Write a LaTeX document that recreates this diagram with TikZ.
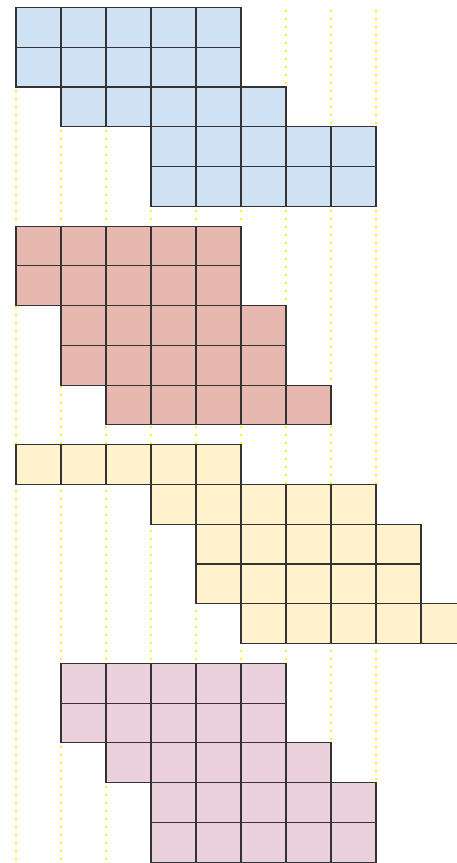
\documentclass[tikz,border=0pt]{standalone}
\definecolor{cblue}{HTML}{CFE2F3}
\definecolor{cred}{HTML}{E6B8AF}
\definecolor{cyel}{HTML}{FFF2CC}
\definecolor{cpink}{HTML}{EAD1DC}
\definecolor{cedge}{HTML}{333333}
\definecolor{cdot}{HTML}{FFFF00}
\tikzset{
  cellbox/.style={draw=cedge, line width=1.1pt},
  dotline/.style={draw=cdot, line width=1.6pt, dash pattern=on 1.6pt off 6.4pt}
}
\begin{document}
\begin{tikzpicture}[x=1pt,y=-1pt]
\useasboundingbox (0,0) rectangle (457,863);
\clip (0,0) rectangle (457,863);
\fill[white] (0,0) rectangle (457,863);
\foreach \i in {0,...,8}
  \draw[dotline] ({16+45*\i},10) -- ({16+45*\i},863);
\foreach \g/\col/\lst in {0/cblue/{0/0,1/0,2/1,3/3,4/3},
                          1/cred/{0/0,1/0,2/1,3/1,4/2},
                          2/cyel/{0/0,1/3,2/4,3/4,4/5},
                          3/cpink/{0/1,1/1,2/2,3/3,4/3}}{
  \foreach \r/\s in \lst {
    \foreach \c in {0,...,4}{
      \draw[cellbox, fill=\col] ({16+45*(\s+\c)},{7.5+39.75*(5.5*\g+\r)}) rectangle +(45,39.75);
    }
  }
}
\end{tikzpicture}
\end{document}
